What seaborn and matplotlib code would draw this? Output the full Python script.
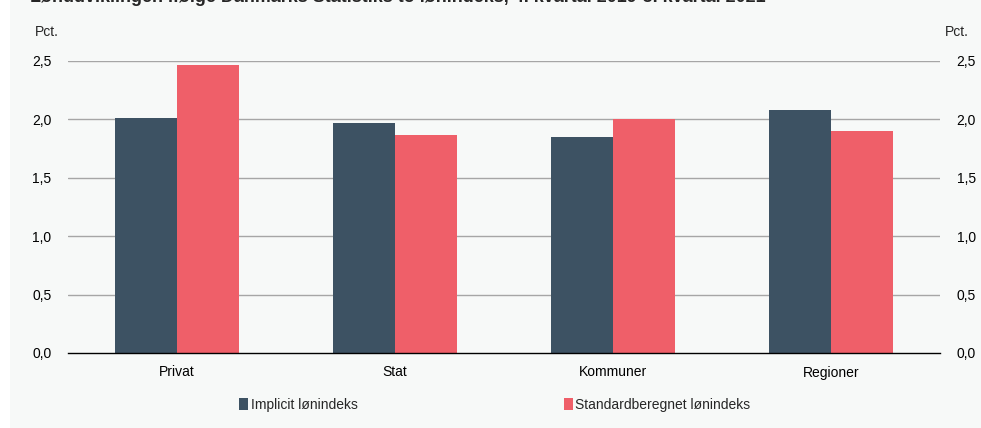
import matplotlib
matplotlib.use("Agg")
import matplotlib.pyplot as plt
import seaborn as sns
import pandas as pd
from matplotlib.patches import Rectangle
from matplotlib.ticker import FuncFormatter, FixedLocator

categories = ["Privat", "Stat", "Kommuner", "Regioner"]
implicit = [2.01, 1.97, 1.85, 2.08]
standard = [2.47, 1.87, 2.00, 1.90]
series_names = ["Implicit lønindeks", "Standardberegnet lønindeks"]
title = "Lønudviklingen ifølge Danmarks Statistiks to lønindeks, 4. kvartal 2019-3. kvartal 2021"
yticks = [0.0, 0.5, 1.0, 1.5, 2.0, 2.5]

df = pd.DataFrame({
    "kategori": categories * 2,
    "værdi": implicit + standard,
    "serie": [series_names[0]] * 4 + [series_names[1]] * 4,
})

sns.set_theme(style="white")
plt.rcParams["font.family"] = ["Liberation Sans", "DejaVu Sans"]

bg = "#f7f9f8"
colors = ["#3d5263", "#ef5f69"]

fig = plt.figure(figsize=(9.81, 4.28), dpi=100)
fig.patch.set_facecolor("white")
fig.patches.append(Rectangle((10 / 981, 0), 1, 1, transform=fig.transFigure,
                             facecolor=bg, edgecolor="none", zorder=-10))

ax = fig.add_axes([68 / 981, 1 - 353 / 428, (940 - 68) / 981, (353 - 61) / 428])
ax.set_facecolor(bg)

sns.barplot(data=df, x="kategori", y="værdi", hue="serie", palette=colors,
            width=0.57, ax=ax, legend=False, saturation=1, linewidth=0)

ax.set_ylim(0, 2.5)
ax.set_xlim(-0.5, 3.5)
ax.set_yticks(yticks)
fmt = FuncFormatter(lambda v, p: f"{v:.1f}".replace(".", ","))
ax.yaxis.set_major_formatter(fmt)
for y in yticks[1:]:
    ax.axhline(y, color="#a6a6a6", lw=1.0, zorder=0)
ax.set_axisbelow(True)

for s in ["left", "right", "top"]:
    ax.spines[s].set_visible(False)
ax.spines["bottom"].set_color("black")
ax.spines["bottom"].set_linewidth(1.0)

ax.set_xlabel("")
ax.set_ylabel("")
ax.tick_params(axis="x", which="major", length=0, pad=9, labelsize=10, colors="black")
ax.xaxis.set_minor_locator(FixedLocator([-0.5, 0.5, 1.5, 2.5, 3.5]))
ax.tick_params(axis="x", which="minor", length=5, width=1, color="black", direction="out")
ax.tick_params(axis="y", length=0, labelsize=10, pad=12, colors="black",
               left=True, right=True, labelleft=True, labelright=True)

fig.text(35 / 981, 1 - 32 / 428, "Pct.", fontsize=10, va="center", ha="left")
fig.text(945 / 981, 1 - 32 / 428, "Pct.", fontsize=10, va="center", ha="left")

fig.text(30 / 981, 1 - 2.5 / 428, title, fontsize=12.9, fontweight="bold",
         va="baseline", ha="left")

handles = [Rectangle((0, 0), 1, 1, facecolor=c, edgecolor="none") for c in colors]
fig.legend(handles, series_names, loc="center", ncol=2,
           bbox_to_anchor=(495 / 981, 1 - 405 / 428), frameon=False,
           fontsize=10, handlelength=0.6, handleheight=0.9, handletextpad=0.2,
           columnspacing=14.9)

fig.savefig("out.png", dpi=100, facecolor=fig.get_facecolor())
